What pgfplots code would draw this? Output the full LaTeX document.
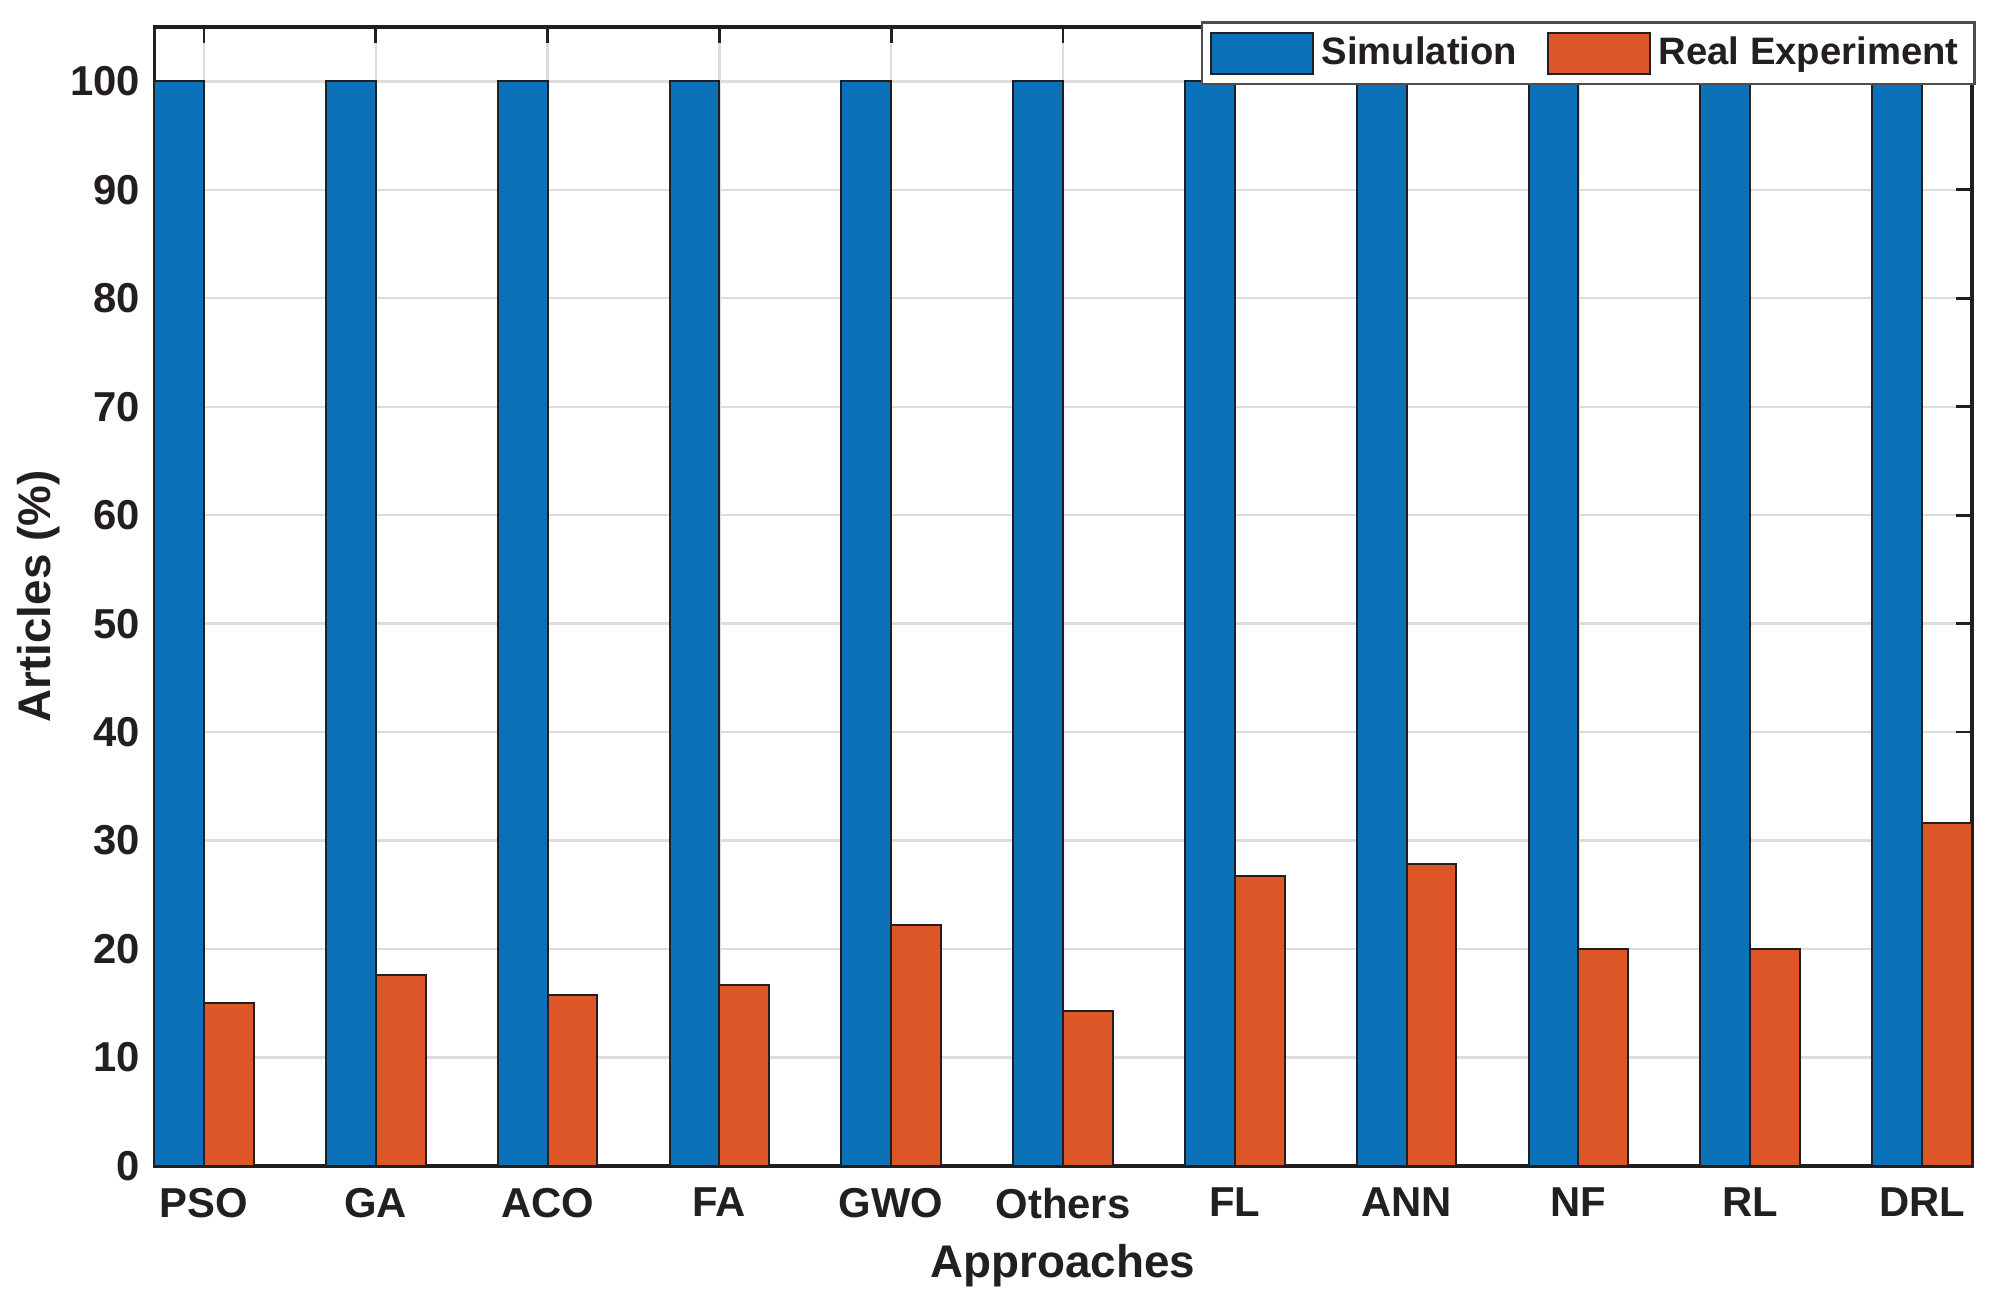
\documentclass[border=0pt]{standalone}
\usepackage{fontspec}
\setmainfont{Liberation Sans}
\usepackage{pgfplots}
\pgfplotsset{compat=1.18}
\definecolor{simblue}{HTML}{0B72B9}
\definecolor{realorange}{HTML}{DC5627}
\definecolor{ink}{HTML}{231F20}
\definecolor{gridgray}{HTML}{DCDCDC}
\pgfplotsset{layers/gridbehind/.define layer set={axis background,axis grid,main,axis ticks,axis lines,axis tick labels,axis descriptions,axis foreground}{}}

\begin{document}
\begin{tikzpicture}
\begin{axis}[
    set layers=gridbehind,
    scale only axis,
    width=456.5pt, height=286pt,
    ybar=0pt, bar width=0.29,
    xmin=0.71, xmax=11.29,
    ymin=0, ymax=105,
    xtick=data,
    xticklabels={PSO,GA,ACO,FA,GWO,Others,FL,ANN,NF,RL,DRL},
    ytick={0,10,...,100},
    tick align=inside,
    major tick length=4pt,
    xmajorgrids, ymajorgrids,
    major grid style={gridgray, line width=0.6pt},
    axis line style={ink, line width=0.8pt},
    tick style={ink, line width=0.7pt},
    font=\bfseries\fontsize{10.5}{12}\selectfont,
    /pgf/number format/assume math mode=true,
    ticklabel style={ink, font=\bfseries\fontsize{10.5}{12}\selectfont},
    xticklabel style={yshift=-2pt},
    xlabel={Approaches},
    ylabel={Articles (\%)},
    label style={ink, font=\bfseries\fontsize{11.5}{13}\selectfont},
    xlabel style={at={(axis description cs:0.5,0)}, anchor=center, yshift=-25pt},
    ylabel style={at={(axis description cs:-0.0635,0.5)}, anchor=center},
    legend columns=2,
    legend style={at={(1.002,1.005)}, anchor=north east, draw=ink!80, line width=0.6pt,
        fill=white, font=\bfseries\fontsize{9.6}{11}\selectfont, text=ink,
        inner xsep=2pt, inner ysep=1.5pt, /tikz/every even column/.append style={column sep=5.5pt}},
    legend image code/.code={\draw[#1] (0cm,-0.18cm) rectangle (0.9cm,0.18cm);},
]
\addplot[fill=simblue, draw=ink, line width=0.5pt] coordinates {
    (1,100) (2,100) (3,100) (4,100) (5,100) (6,100) (7,100) (8,100) (9,100) (10,100) (11,100)
};
\addplot[fill=realorange, draw=ink, line width=0.5pt] coordinates {
    (1,15.0) (2,17.6) (3,15.8) (4,16.7) (5,22.2) (6,14.3) (7,26.7) (8,27.8) (9,20.0) (10,20.0) (11,31.6)
};
\legend{Simulation, Real Experiment}
\end{axis}
\path ([xshift=-38.7pt,yshift=-34.4pt]current axis.south west) rectangle ([xshift=4.8pt,yshift=6.8pt]current axis.north east);
\end{tikzpicture}
\end{document}
